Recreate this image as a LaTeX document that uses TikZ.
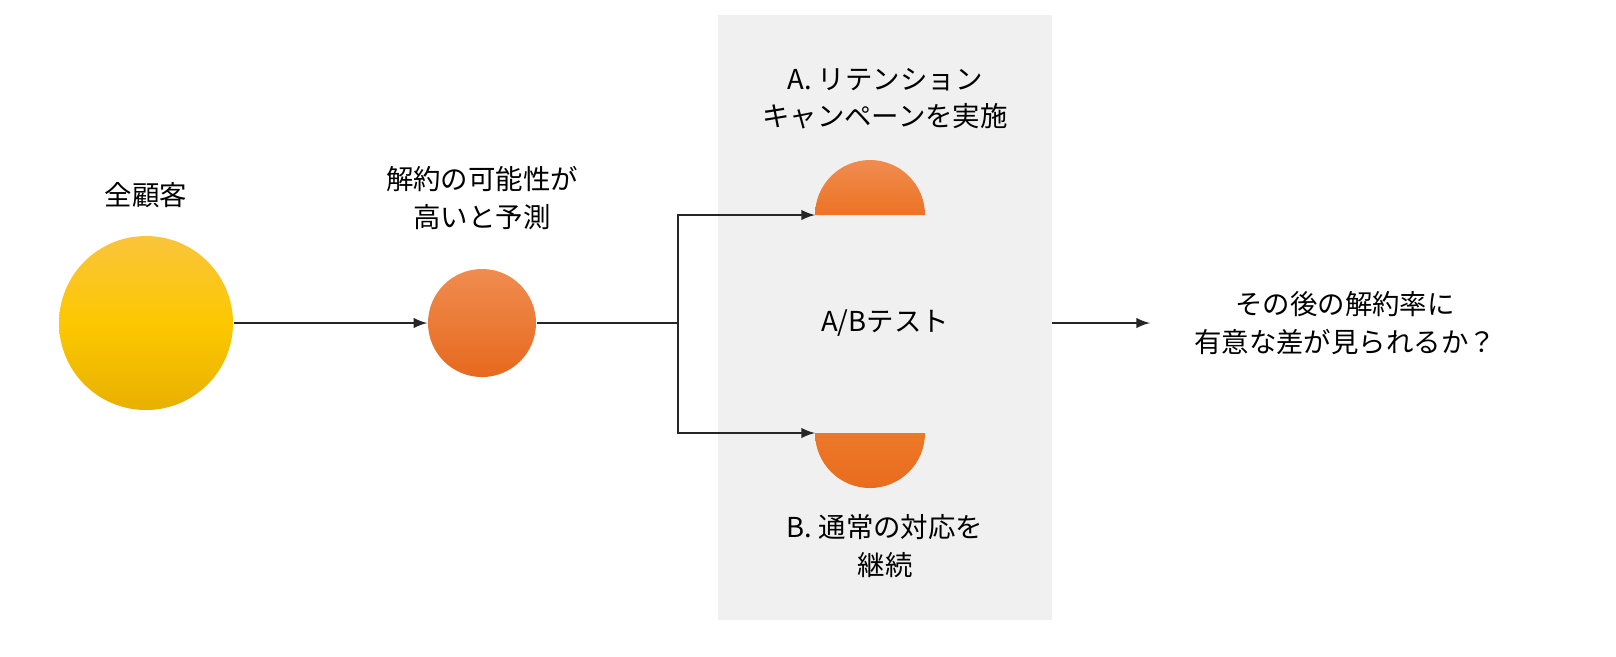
\documentclass[tikz,border=0pt]{standalone}
\usepackage{fontspec}
\setmainfont{Noto Sans CJK JP}
\begin{document}
\begin{tikzpicture}[x=0.01cm,y=-0.01cm,
 lbl/.style={align=center,font=\fontsize{7.8}{10.6}\selectfont,text=black},
 conn/.style={draw=black!85,line width=0.35pt},
 arr/.style={conn,-latex}]
\useasboundingbox (0,0) rectangle (1616,656);
\fill[white] (0,0) rectangle (1616,656);
\fill[black!6] (718,15) rectangle (1052,620);
\shade[top color={rgb,255:red,250;green,196;blue,60},bottom color={rgb,255:red,232;green,176;blue,0},middle color={rgb,255:red,252;green,200;blue,0}] (146,323) circle (87);
\node[circle,minimum size=1.74cm,inner sep=0] (all) at (146,323) {};
\shade[top color={rgb,255:red,240;green,140;blue,80},bottom color={rgb,255:red,230;green,105;blue,30}] (482,323) circle (54);
\node[circle,minimum size=1.08cm,inner sep=0] (pred) at (482,323) {};
\node[lbl] (tall) at (146,195) {全顧客};
\node[lbl] (tpred) at (482,198) {解約の可能性が\\高いと予測};
\shade[top color={rgb,255:red,240;green,140;blue,80},bottom color={rgb,255:red,236;green,115;blue,35}] (815,215) arc[start angle=180,end angle=360,radius=55] -- cycle;
\shade[top color={rgb,255:red,238;green,120;blue,40},bottom color={rgb,255:red,232;green,108;blue,30}] (815,433) arc[start angle=180,end angle=0,radius=55] -- cycle;
\coordinate (A) at (815,215);
\coordinate (B) at (815,433);
\coordinate (br) at (678,323);
\node[lbl] (ta) at (885,99) {A. リテンション\\キャンペーンを実施};
\node[lbl] (ab) at (885,323) {A/Bテスト};
\node[lbl] (tb) at (885,546) {B. 通常の対応を\\継続};
\node[lbl] (q) at (1345,323) {その後の解約率に\\有意な差が見られるか？};
\coordinate (pe) at (1052,323);
\coordinate (qe) at (1150,323);
\draw[arr] (all) -- (pred);
\draw[conn] (pred) -- (br);
\draw[arr] (br) |- (A);
\draw[arr] (br) |- (B);
\draw[arr] (pe) -- (qe);
\end{tikzpicture}
\end{document}
